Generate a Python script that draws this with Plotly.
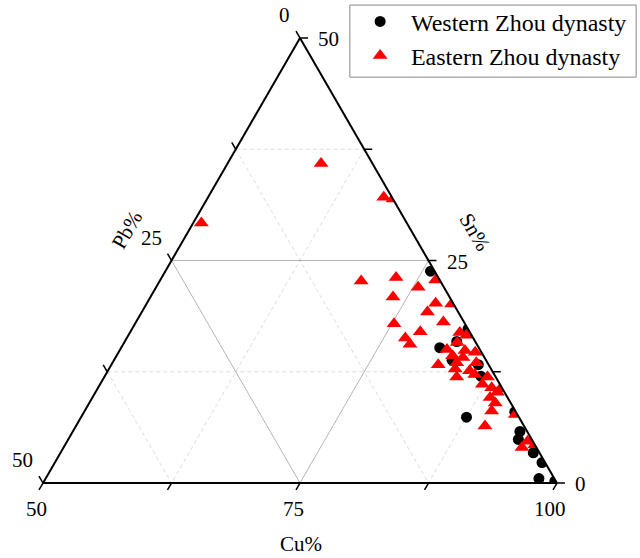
import plotly.graph_objects as go

# ---- data (wt%) ----
west_sn = [23.8, 17.3, 15.9, 15.2, 13.8, 13.3, 12.0, 7.4, 8.0, 5.8, 4.9, 3.4, 2.3, 0.5, 0.2]
west_pb = [0.4, 0.0, 1.8, 3.8, 3.3, 1.0, 1.4, 5.1, 0.1, 0.7, 1.3, 0.6, 0.3, 1.5, 0.1]
west_cu = [75.8, 82.7, 82.3, 81.0, 82.9, 85.7, 86.6, 87.5, 91.9, 93.5, 93.8, 96.0, 97.4, 98.0, 99.7]

east_sn = [35.9, 32.1, 31.9, 29.2, 22.7, 23.1, 22.0, 22.8, 20.9, 20.2, 20.1, 19.2, 18.1, 17.9, 17.0,
           16.3, 15.6, 16.9, 16.6, 15.8, 15.0, 14.9, 14.7, 14.3, 14.1, 13.3, 13.5, 13.5, 12.8, 12.6,
           11.9, 11.9, 12.2, 11.1, 10.7, 10.6, 10.2, 9.6, 9.0, 8.1, 6.4, 7.7, 4.7, 4.0, 4.3]
east_pb = [5.0, 0.8, 0.0, 20.0, 7.7, 4.1, 2.5, 0.4, 5.5, 1.7, 0.2, 3.0, 2.0, 6.9, 4.8,
           6.6, 6.5, 1.0, 0.5, 1.8, 3.2, 1.5, 0.6, 3.0, 2.1, 4.9, 3.0, 1.1, 3.5, 2.2,
           3.8, 0.8, 1.9, 1.7, 1.0, 0.2, 0.7, 1.7, 1.5, 2.3, 3.8, 0.2, 0.5, 1.4, 0.0]
east_cu = [59.1, 67.1, 68.1, 50.8, 69.6, 72.8, 75.5, 76.8, 73.6, 78.1, 79.7, 77.8, 79.9, 75.2, 78.2,
           77.1, 77.9, 82.1, 82.9, 82.4, 81.8, 83.6, 84.7, 82.7, 83.8, 81.8, 83.5, 85.4, 83.7, 85.2,
           84.3, 87.3, 85.9, 87.2, 88.3, 89.2, 89.1, 88.7, 89.5, 89.6, 89.8, 92.1, 94.8, 94.6, 95.7]

# axis ranges and tick values
SUM = 100
CU_MIN = 50
major_ticks = [0, 25, 50]            # Pb and Sn labelled values
cu_major_ticks = [50, 75, 100]       # Cu labelled values
tick_step_vals = [0, 12.5, 25, 37.5, 50]
major_grid = [25]
minor_grid = [12.5, 37.5]

FONT = 'Liberation Serif'
SPAN = SUM - CU_MIN   # 50

# plot-area size in px (used only to turn pixel tick lengths into paper units)
W, H = 640, 558
ML, MR, MT, MB = 43, 83, 38, 75
PW, PH = W - ML - MR, H - MT - MB
TICK = 8


def to_paper(sn, pb, cu):
    """ternary (Sn top, Pb bottom-left, Cu bottom-right) -> paper coords of the fitted triangle"""
    u = cu - CU_MIN
    return u / SPAN + 0.5 * sn / SPAN, sn / SPAN


fig = go.Figure()


def grid_lines(levels, style):
    for v in levels:
        fig.add_trace(go.Scatterternary(a=[v, v], b=[SPAN - v, 0], c=[CU_MIN, SUM - v], mode='lines',
                                        line=style, showlegend=False, hoverinfo='skip'))
        fig.add_trace(go.Scatterternary(a=[SPAN - v, 0], b=[v, v], c=[CU_MIN, SUM - v], mode='lines',
                                        line=style, showlegend=False, hoverinfo='skip'))
        cu = CU_MIN + v
        fig.add_trace(go.Scatterternary(a=[SUM - cu, 0], b=[0, SUM - cu], c=[cu, cu], mode='lines',
                                        line=style, showlegend=False, hoverinfo='skip'))


grid_lines(minor_grid, dict(color='#dcdcdc', width=1, dash='4px,3px'))
grid_lines(major_grid, dict(color='#b4b4b4', width=1))

fig.add_trace(go.Scatterternary(a=west_sn, b=west_pb, c=west_cu, mode='markers',
                                name='\u00a0\u2009Western Zhou dynasty',
                                marker=dict(symbol='circle', size=11, color='black')))
fig.add_trace(go.Scatterternary(a=east_sn, b=east_pb, c=east_cu, mode='markers',
                                name='\u00a0\u2009Eastern Zhou dynasty',
                                marker=dict(symbol='triangle-up', size=13, color='#ff0000')))

axis_common = dict(showline=True, linecolor='black', linewidth=2, showgrid=False,
                   ticks='', showticklabels=False, title=dict(text=''))

shapes = [dict(type='rect', xref='paper', yref='paper', x0=0.597, x1=1.154, y0=0.912, y1=1.074,
               line=dict(color='#888888', width=1), fillcolor='white', layer='below')]


def tick_shape(x, y, dx_px, dy_px):
    return dict(type='line', xref='paper', yref='paper', x0=x, y0=y,
                x1=x + dx_px * TICK / PW, y1=y - dy_px * TICK / PH,
                line=dict(color='black', width=1.5), layer='above')


for t in tick_step_vals:
    # left edge (Pb), tick runs outward along constant-Pb direction
    x, y = to_paper(SPAN - t, t, CU_MIN)
    shapes.append(tick_shape(x, y, -0.5, -0.866))
    # right edge (Sn), horizontal outward
    x, y = to_paper(t, 0, SUM - t)
    shapes.append(tick_shape(x, y, 1.0, 0.0))
    # bottom edge (Cu), outward along constant-Cu direction
    x, y = to_paper(0, t, SUM - t)
    shapes.append(tick_shape(x, y, -0.5, 0.866))

annotations = []
tick_font = dict(family=FONT, size=21, color='black')
for p in major_ticks:
    x, y = to_paper(SPAN - p, p, CU_MIN)
    annotations.append(dict(text=str(p), x=x, y=y, xref='paper', yref='paper', showarrow=False,
                            xanchor='right', yanchor='middle', xshift=-8, yshift=23, font=tick_font))
for s in major_ticks:
    x, y = to_paper(s, 0, SUM - s)
    annotations.append(dict(text=str(s), x=x, y=y, xref='paper', yref='paper', showarrow=False,
                            xanchor='left', yanchor='middle', xshift=16, yshift=-1, font=tick_font))
for c in cu_major_ticks:
    x, y = to_paper(0, SUM - c, c)
    annotations.append(dict(text=str(c), x=x, y=y, xref='paper', yref='paper', showarrow=False,
                            xanchor='center', yanchor='middle', xshift=-7, yshift=-26, font=tick_font))
annotations += [
    dict(text='Pb%', x=0.163, y=0.569, xref='paper', yref='paper', showarrow=False,
         xanchor='center', yanchor='middle', textangle=-60, font=tick_font),
    dict(text='Sn%', x=0.840, y=0.564, xref='paper', yref='paper', showarrow=False,
         xanchor='center', yanchor='middle', textangle=60, font=tick_font),
    dict(text='Cu%', x=0.502, y=-0.137, xref='paper', yref='paper', showarrow=False,
         xanchor='center', yanchor='middle', font=tick_font),
]

fig.update_layout(
    width=W, height=H,
    margin=dict(l=ML, r=MR, t=MT, b=MB, autoexpand=False),
    paper_bgcolor='white',
    ternary=dict(
        sum=SUM,
        bgcolor='white',
        domain=dict(x=[0, 1], y=[0, 1]),
        aaxis=dict(min=0, **axis_common),
        baxis=dict(min=0, **axis_common),
        caxis=dict(min=CU_MIN, **axis_common),
    ),
    font=dict(family=FONT, size=21, color='black'),
    legend=dict(x=0.617, y=1.087, xanchor='left', yanchor='top',
                bgcolor='rgba(0,0,0,0)', borderwidth=0,
                font=dict(family=FONT, size=24, color='black')),
    shapes=shapes,
    annotations=annotations,
)

fig.write_html('out.html')
